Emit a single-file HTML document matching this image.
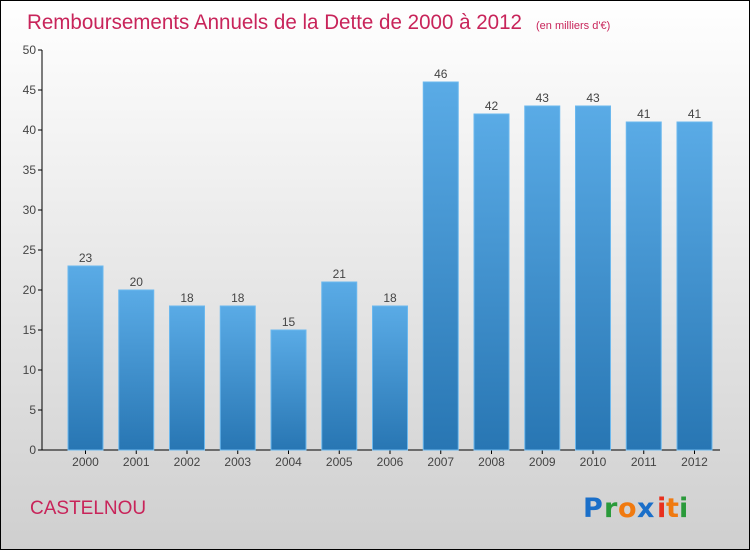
<!DOCTYPE html>
<html><head><meta charset="utf-8"><style>
body{margin:0;width:750px;height:550px;overflow:hidden;font-family:"Liberation Sans",sans-serif}
</style></head><body>
<svg width="750" height="550" xmlns="http://www.w3.org/2000/svg">
<defs>
<linearGradient id="bg" x1="0" y1="0" x2="0" y2="1"><stop offset="0" stop-color="#ffffff"/><stop offset="1" stop-color="#cfcfcf"/></linearGradient>
<linearGradient id="bar" x1="0" y1="0" x2="0" y2="1"><stop offset="0" stop-color="#5aabe6"/><stop offset="1" stop-color="#2876b3"/></linearGradient>
</defs>
<rect x="0.5" y="0.5" width="749" height="549" fill="url(#bg)" stroke="#000"/>
<text x="27" y="29" font-size="21" fill="#c8245a" textLength="495" lengthAdjust="spacingAndGlyphs">Remboursements Annuels de la Dette de 2000 à 2012</text>
<text x="536" y="29" font-size="11" fill="#c8245a">(en milliers d'€)</text>
<g id="axes"></g>
<g id="bars"></g>
<text x="30" y="514" font-size="19" fill="#c8245a">CASTELNOU</text>
<g font-size="27" font-weight="bold" font-family="'DejaVu Sans',sans-serif">
<text x="583" y="517" fill="#1a6fc9">P</text><text x="604" y="517" fill="#2a9a3a">r</text><text x="618" y="517" fill="#f07a10">o</text><text x="637" y="517" fill="#1a6fc9">x</text><text x="657" y="517" fill="#e8301e">i</text><text x="666" y="517" fill="#f07a10">t</text><text x="679" y="517" fill="#2a9a3a">i</text>
</g>
</svg>
<script>
const categories=["2000","2001","2002","2003","2004","2005","2006","2007","2008","2009","2010","2011","2012"];
const values=[23,20,18,18,15,21,18,46,42,43,43,41,41];
const yTicks=[0,5,10,15,20,25,30,35,40,45,50];
const NS="http://www.w3.org/2000/svg";
const y=v=>450-v*8;
const x=i=>68+i*50.75;
const bw=35;
function el(t,a,p){const e=document.createElementNS(NS,t);for(const k in a)e.setAttribute(k,a[k]);p.appendChild(e);return e;}
const ax=document.getElementById('axes'),bars=document.getElementById('bars');
const yl=el('line',{x1:42,y1:50,x2:42,y2:450,stroke:'#000'},ax);


const xl=el('line',{x1:42,y1:450,x2:720,y2:450,stroke:'#000'},ax);


yTicks.forEach(v=>{
 el('line',{x1:38,y1:y(v),x2:42,y2:y(v),stroke:'#000'},ax);
 const t=el('text',{x:36,y:y(v)+4,'font-size':12,fill:'#444','text-anchor':'end'},ax);
 t.textContent=v;
 
 
});
categories.forEach((c,i)=>{
 const r=el('rect',{x:x(i),y:y(values[i]),width:bw,height:450-y(values[i]),fill:'url(#bar)',stroke:'#6bb8ee','stroke-width':1},bars);
 
 
 el('line',{x1:x(i)+bw/2,y1:450,x2:x(i)+bw/2,y2:454,stroke:'#000'},ax);
 const t=el('text',{x:x(i)+bw/2,y:466,'font-size':12,fill:'#444','text-anchor':'middle'},ax);
 t.textContent=c;
 
 
 const v=el('text',{x:x(i)+bw/2,y:y(values[i])-4,'font-size':12,fill:'#444','text-anchor':'middle'},bars);
 v.textContent=values[i];
 
 
});
</script>
</body></html>
